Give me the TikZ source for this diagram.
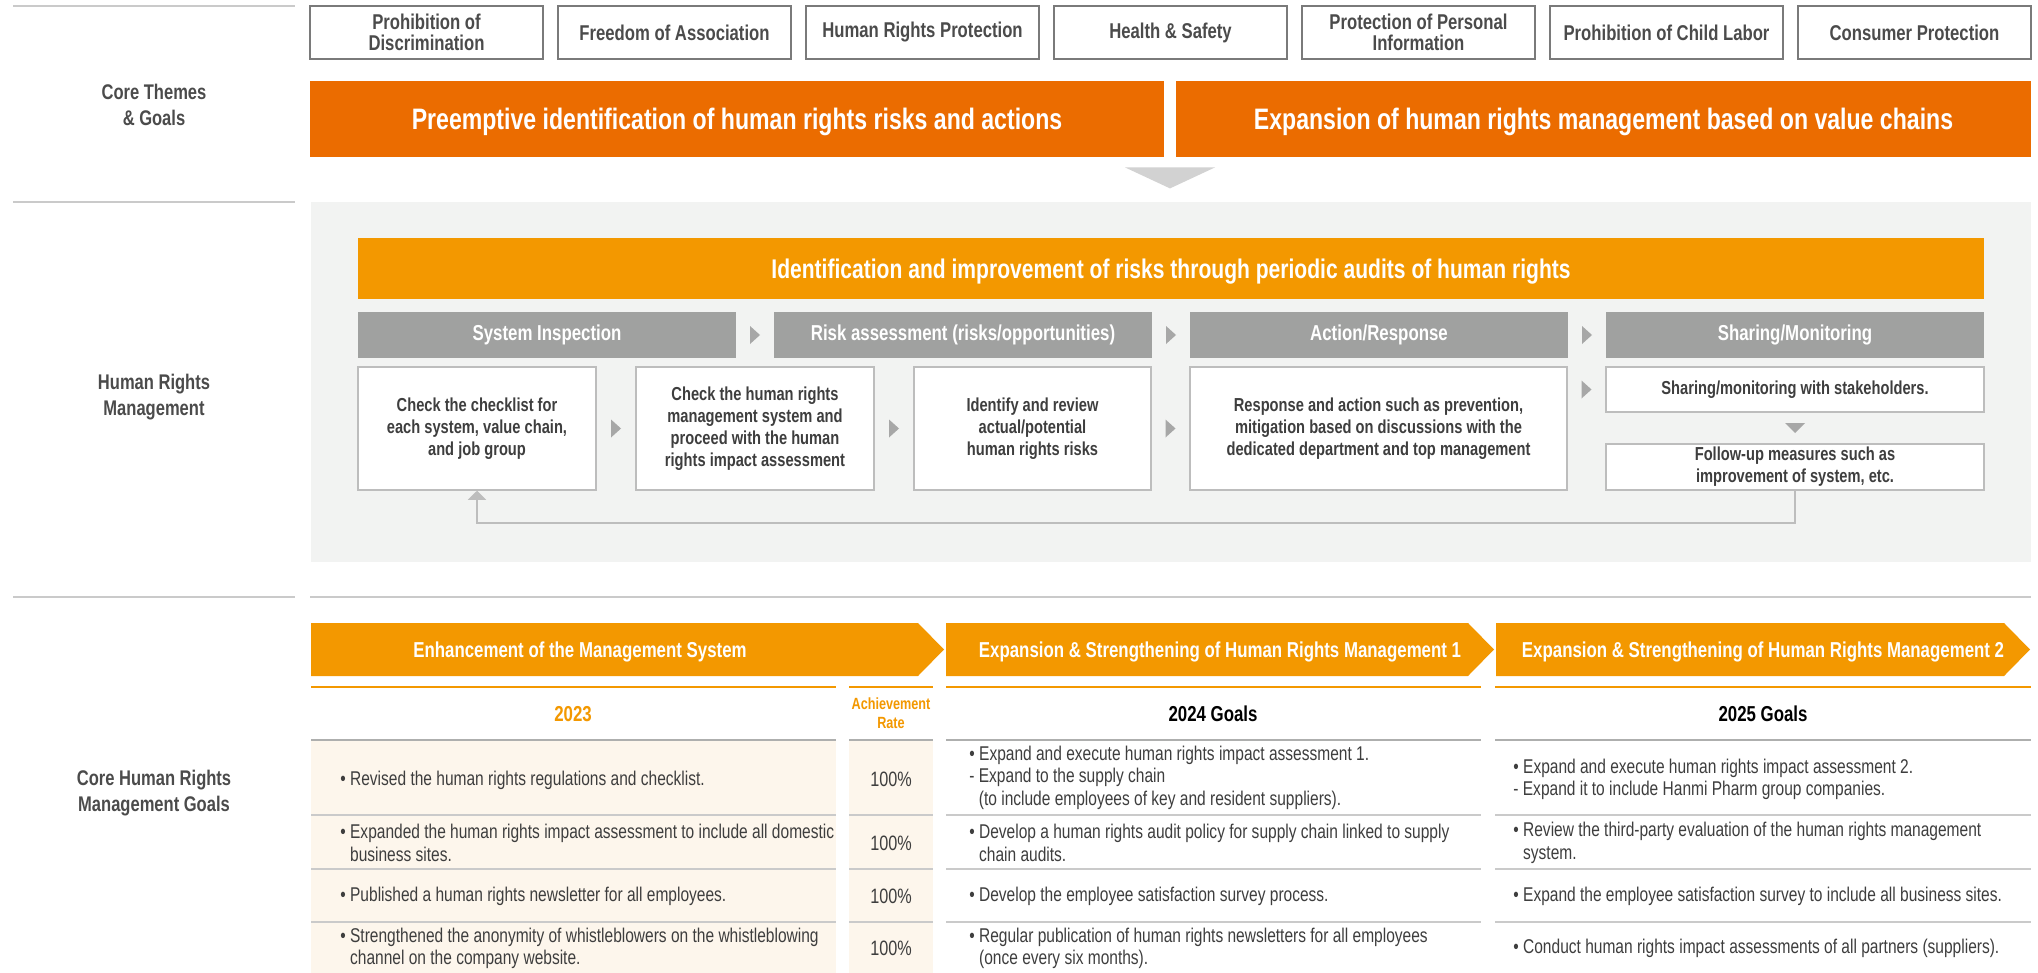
\documentclass[tikz,border=0pt]{standalone}
\usepackage{fontspec}
\setmainfont{Liberation Sans}[FakeStretch=0.78]
\usetikzlibrary{arrows.meta,calc}

\definecolor{deeporange}{HTML}{EB6C00}
\definecolor{lightorange}{HTML}{F39800}
\definecolor{headgray}{HTML}{A0A1A0}
\definecolor{panelgray}{HTML}{F2F3F2}
\definecolor{boxgray}{HTML}{7A7A7A}
\definecolor{stepline}{HTML}{BDBDBD}
\definecolor{rowline}{HTML}{CACACA}
\definecolor{cream}{HTML}{FDF6EC}
\definecolor{labelgray}{HTML}{4B4B4B}
\definecolor{bodygray}{HTML}{3E3E3E}
\definecolor{trigray}{HTML}{A7A7A7}

\begin{document}
\begin{tikzpicture}[x=0.5pt, y=-0.5pt,
    theme/.style={rectangle, draw=boxgray, line width=0.7pt, fill=white, inner sep=0pt,
        minimum width=116.5pt, minimum height=26.5pt, align=center,
        font=\fontsize{10.7}{10.5}\selectfont\bfseries, text=labelgray},
    goal/.style={rectangle, fill=deeporange, inner sep=0pt, minimum height=38pt, text depth=0pt,
        text=white, font=\fontsize{14.8}{17}\selectfont\bfseries},
    sidelabel/.style={align=center, inner sep=0pt, text=labelgray,
        font=\fontsize{10.6}{13}\selectfont\bfseries},
    phase/.style={rectangle, fill=headgray, inner sep=0pt, minimum width=189pt,
        minimum height=23pt, text=white, font=\fontsize{10.8}{13}\selectfont\bfseries},
    stepbox/.style={rectangle, draw=stepline, line width=0.75pt, fill=white, inner sep=0pt,
        minimum height=61.5pt, align=center, text=bodygray,
        font=\fontsize{9.4}{11}\selectfont\bfseries},
    smallbox/.style={stepbox, minimum width=189pt, minimum height=22.5pt},
    chev/.style={inner sep=0pt, text depth=0pt, text=white, font=\fontsize{10.8}{13}\selectfont\bfseries},
    colhead/.style={inner sep=0pt, align=center, font=\fontsize{10.8}{13}\selectfont\bfseries},
    cell/.style={anchor=west, inner sep=0pt, align=left, text=bodygray,
        font=\fontsize{9.95}{11.2}\selectfont},
    rate/.style={inner sep=0pt, text=bodygray, font=\fontsize{10.4}{12}\selectfont},
    sep/.style={draw=rowline, line width=1pt},
    tri/.style={fill=trigray},
    feedback/.style={draw=stepline, line width=0.8pt, -{Triangle[width=9pt,length=4.5pt]}},
]

\fill[white] (0,0) rectangle (2038,973);
\useasboundingbox (0,0) rectangle (2038,973);

% Linee di sezione
\draw[sep] (13,6) -- (295,6);
\draw[sep] (13,202) -- (295,202);
\draw[sep] (13,597) -- (295,597);
\draw[sep] (310,597) -- (2031,597);

% Etichette laterali
\node[sidelabel] (lab1) at (154,105) {Core Themes\\\& Goals};
\node[sidelabel] (lab2) at (154,397) {Human Rights\\Management};
\node[sidelabel] (lab3) at (154,793) {Core Human Rights\\Management Goals};

% Temi
\node[theme] (t1) at (426.5,32.5) {Prohibition of\\Discrimination};
\node[theme] (t2) at (674.5,32.5) {Freedom of Association};
\node[theme] (t3) at (922.5,32.5) {Human Rights Protection};
\node[theme] (t4) at (1170.5,32.5) {Health \& Safety};
\node[theme] (t5) at (1418.5,32.5) {Protection of Personal\\Information};
\node[theme] (t6) at (1666.5,32.5) {Prohibition of Child Labor};
\node[theme] (t7) at (1914.5,32.5) {Consumer Protection};

% Obiettivi
\node[goal, minimum width=427pt] (g1) at (737,119)
    {Preemptive identification of human rights risks and actions};
\node[goal, minimum width=427.5pt] (g2) at (1603.5,119)
    {Expansion of human rights management based on value chains};
\fill[gray!35] ($(g1.south east)!.5!(g2.south west)$) ++(-45,10) -- ++(90,0) -- ++(-45,21) -- cycle;

% Pannello gestione
\node[fill=panelgray, inner sep=0pt, minimum width=860pt, minimum height=180pt] (panel) at (1171,382) {};
\node[fill=lightorange, inner sep=0pt, minimum width=813pt, minimum height=30.5pt, text depth=0pt,
      text=white, font=\fontsize{13.5}{16}\selectfont\bfseries] (audit) at (1171,268.5)
    {Identification and improvement of risks through periodic audits of human rights};

% Fasi
\node[phase] (h1) at (547,335) {System Inspection};
\node[phase] (h2) at (963,335) {Risk assessment (risks/opportunities)};
\node[phase] (h3) at (1379,335) {Action/Response};
\node[phase] (h4) at (1795,335) {Sharing/Monitoring};

% Passi
\node[stepbox, minimum width=119pt] (b1) at (477,428.5)
    {Check the checklist for\\each system, value chain,\\and job group};
\node[stepbox, minimum width=119pt] (b2) at (755,428.5)
    {Check the human rights\\management system and\\proceed with the human\\rights impact assessment};
\node[stepbox, minimum width=118.5pt] (b3) at (1032.5,428.5)
    {Identify and review\\actual/potential\\human rights risks};
\node[stepbox, minimum width=188.5pt] (b4) at (1378.5,428.5)
    {Response and action such as prevention,\\mitigation based on discussions with the\\dedicated department and top management};
\node[smallbox] (s1) at (1795,389.5) {Sharing/monitoring with stakeholders.};
\node[smallbox, minimum height=23pt] (fu) at (1795,467)
    {Follow-up measures such as\\improvement of system, etc.};

% Frecce
\fill[tri] ($(h1.east)!.5!(h2.west)$) ++(-5,-9) -- ++(10,9) -- ++(-10,9) -- cycle;
\fill[tri] ($(h2.east)!.5!(h3.west)$) ++(-5,-9) -- ++(10,9) -- ++(-10,9) -- cycle;
\fill[tri] ($(h3.east)!.5!(h4.west)$) ++(-5,-9) -- ++(10,9) -- ++(-10,9) -- cycle;
\fill[tri] ($(b1.east)!.5!(b2.west)$) ++(-5,-9) -- ++(10,9) -- ++(-10,9) -- cycle;
\fill[tri] ($(b2.east)!.5!(b3.west)$) ++(-5,-9) -- ++(10,9) -- ++(-10,9) -- cycle;
\fill[tri] ($(b3.east)!.5!(b4.west)$) ++(-5,-9) -- ++(10,9) -- ++(-10,9) -- cycle;
\fill[tri] ($(b4.east |- s1.west)!.5!(s1.west)$) ++(-5,-9) -- ++(10,9) -- ++(-10,9) -- cycle;
\fill[tri] ($(s1.south)!.5!(fu.north)$) ++(-10,-5) -- ++(20,0) -- ++(-10,10) -- cycle;
\draw[feedback] (fu.south) -- ++(0,32) -| (b1.south);

% Frecce obiettivi
\fill[lightorange] (311,623) -- (918,623) -- (944,649.5) -- (918,676) -- (311,676) -- cycle;
\fill[lightorange] (946,623) -- (1468,623) -- (1494,649.5) -- (1468,676) -- (946,676) -- cycle;
\fill[lightorange] (1496,623) -- (2004,623) -- (2030,649.5) -- (2004,676) -- (1496,676) -- cycle;
\node[chev] (c1) at (580,649.5) {Enhancement of the Management System};
\node[chev] (c2) at (1220,649.5) {Expansion \& Strengthening of Human Rights Management 1};
\node[chev] (c3) at (1763,649.5) {Expansion \& Strengthening of Human Rights Management 2};

% Tabella
\fill[cream] (311,740) rectangle (836,973);
\fill[cream] (849,740) rectangle (933,973);
\draw[draw=lightorange, line width=1pt] (311,687) -- (836,687) (849,687) -- (933,687)
    (946,687) -- (1481,687) (1495,687) -- (2031,687);
\draw[draw=headgray!85, line width=1pt] (311,740) -- (836,740) (849,740) -- (933,740)
    (946,740) -- (1481,740) (1495,740) -- (2031,740);
\draw[sep] (311,815) -- (836,815) (849,815) -- (933,815) (946,815) -- (1481,815) (1495,815) -- (2031,815);
\draw[sep] (311,869) -- (836,869) (849,869) -- (933,869) (946,869) -- (1481,869) (1495,869) -- (2031,869);
\draw[sep] (311,922) -- (836,922) (849,922) -- (933,922) (946,922) -- (1481,922) (1495,922) -- (2031,922);

\node[colhead, text=lightorange] (y23) at (573,714) {2023};
\node[colhead, text=lightorange, font=\fontsize{8.1}{9.5}\selectfont\bfseries] (ach) at (891,713)
    {Achievement\\Rate};
\node[colhead, text=black] (y24) at (1213,714) {2024 Goals};
\node[colhead, text=black] (y25) at (1763,714) {2025 Goals};

% Righe
\node[cell] (r1a) at (340,780) {• Revised the human rights regulations and checklist.};
\node[rate] (r1b) at (891,779) {100\%};
\node[cell] (r1c) at (969,777.5) {• Expand and execute human rights impact assessment 1.\\
    - Expand to the supply chain\\
    \phantom{-\ }(to include employees of key and resident suppliers).};
\node[cell] (r1d) at (1513,779.5) {• Expand and execute human rights impact assessment 2.\\
    - Expand it to include Hanmi Pharm group companies.};

\node[cell] (r2a) at (340,843) {• Expanded the human rights impact assessment to include all domestic\\
    \phantom{•\ }business sites.};
\node[rate] (r2b) at (891,843) {100\%};
\node[cell] (r2c) at (969,843) {• Develop a human rights audit policy for supply chain linked to supply\\
    \phantom{•\ }chain audits.};
\node[cell] (r2d) at (1513,843) {• Review the third-party evaluation of the human rights management\\
    \phantom{•\ }system.};

\node[cell] (r3a) at (340,896.5) {• Published a human rights newsletter for all employees.};
\node[rate] (r3b) at (891,896.5) {100\%};
\node[cell] (r3c) at (969,896.5) {• Develop the employee satisfaction survey process.};
\node[cell] (r3d) at (1513,896.5) {• Expand the employee satisfaction survey to include all business sites.};

\node[cell] (r4a) at (340,948.5) {• Strengthened the anonymity of whistleblowers on the whistleblowing\\
    \phantom{•\ }channel on the company website.};
\node[rate] (r4b) at (891,948.5) {100\%};
\node[cell] (r4c) at (969,948.5) {• Regular publication of human rights newsletters for all employees\\
    \phantom{•\ }(once every six months).};
\node[cell] (r4d) at (1513,948.5) {• Conduct human rights impact assessments of all partners (suppliers).};

\end{tikzpicture}
\end{document}
